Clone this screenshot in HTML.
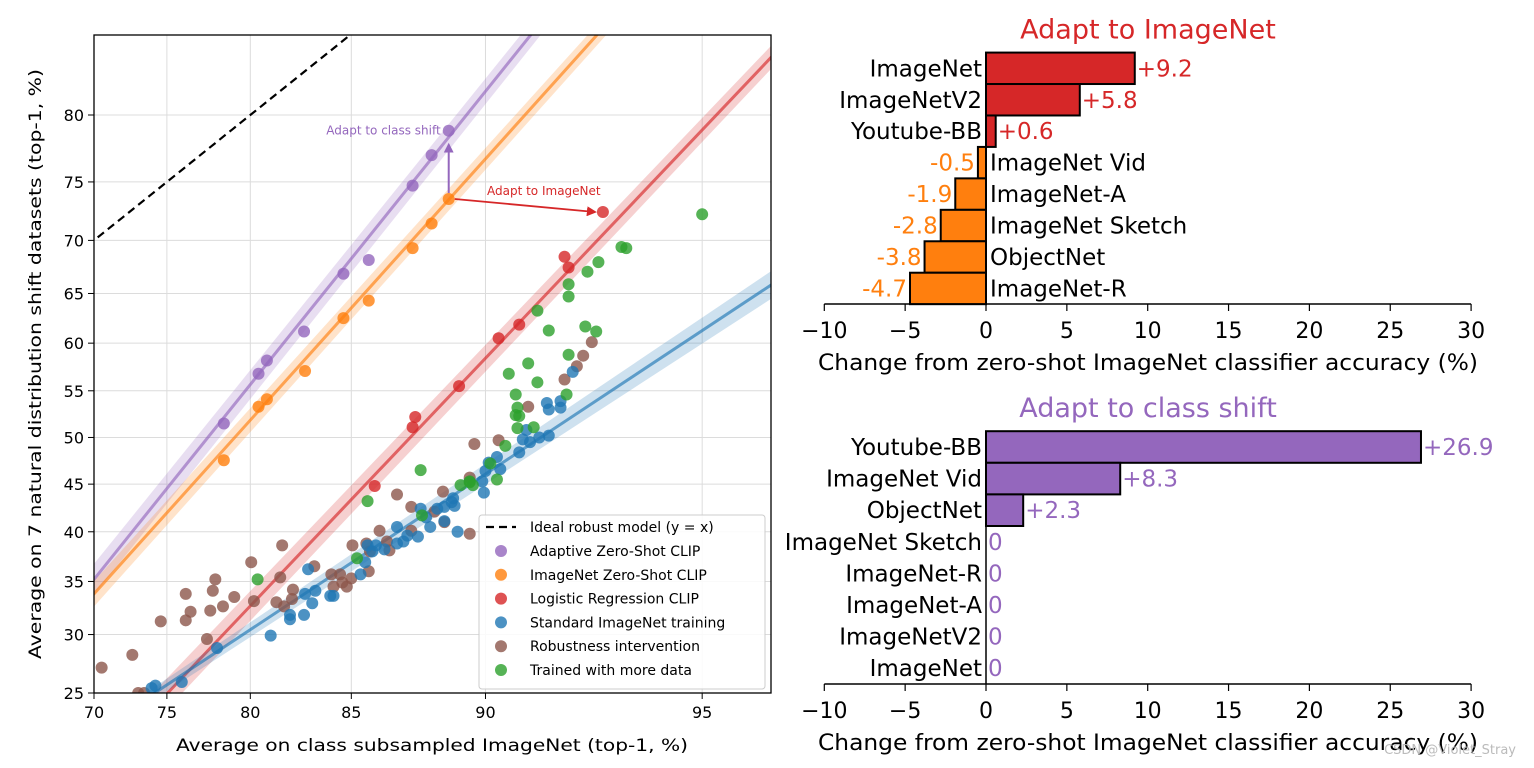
<!DOCTYPE html>
<html><head><meta charset="utf-8">
<style>
html,body{margin:0;padding:0;background:#fff;}
svg{display:block;font-family:"DejaVu Sans","Liberation Sans",sans-serif;}
</style></head>
<body>
<svg id="fig" width="1534" height="768" viewBox="0 0 1534 768" xmlns="http://www.w3.org/2000/svg">
<defs>
<clipPath id="plotclip"><rect x="94" y="35" width="677" height="658"/></clipPath>
<marker id="arrP" markerWidth="10" markerHeight="10" refX="8" refY="5" orient="auto" markerUnits="userSpaceOnUse"><path d="M0,0 L10,5 L0,10 z" fill="#9467bd"/></marker>
<marker id="arrR" markerWidth="10" markerHeight="10" refX="8" refY="5" orient="auto" markerUnits="userSpaceOnUse"><path d="M0,0 L10,5 L0,10 z" fill="#d62728"/></marker>
</defs>
<g id="left"></g>
<g id="top"></g>
<g id="bot"></g>
<text x="1516" y="754" font-size="13" fill="#bbb" text-anchor="end">CSDN @Violet_Stray</text>
</svg>
<script>
// ---------- Left scatter data ----------
const xTicks = [70, 75, 80, 85, 90, 95];
const yTicks = [25, 30, 35, 40, 45, 50, 55, 60, 65, 70, 75, 80];
const adaptivePts = [[78.5,51.5],[80.45,56.8],[80.9,58.2],[82.8,61.2],[84.65,66.9],[85.75,68.2],[87.5,74.7],[88.2,77.1],[88.8,78.9]];
const zeroShotPts = [[78.5,47.55],[80.45,53.3],[80.9,54.1],[82.85,57.1],[84.65,62.55],[85.75,64.3],[87.5,69.3],[88.2,71.5],[88.8,73.6]];
const logRegPts = [[86.0,44.8],[87.5,51.1],[87.6,52.2],[89.15,55.5],[90.4,60.5],[91.0,61.9],[92.2,68.5],[92.3,67.5],[93.1,72.5]];
const standardPts = [[92.4,57.0],[91.75,53.7],[91.8,53.0],[92.1,53.9],[92.1,53.2],[91.2,50.8],[91.1,49.8],[91.3,49.5],[91.55,50.0],[91.8,50.2],[91.0,48.4],[90.35,47.9],[90.45,46.6],[90.0,46.4],[90.1,47.3],[89.9,45.3],[89.95,44.1],[88.95,43.5],[88.65,42.6],[89.0,42.7],[88.9,43.1],[88.4,42.4],[88.65,41.1],[87.8,42.4],[88.15,40.5],[87.7,39.5],[86.9,40.5],[86.9,38.8],[87.15,39.0],[89.1,40.0],[86.05,38.6],[85.7,38.6],[85.6,36.9],[85.4,35.7],[84.2,33.6],[84.05,33.6],[83.35,34.1],[83.2,32.9],[82.85,33.8],[83.0,36.2],[82.8,31.8],[82.1,31.8],[82.1,31.4],[81.1,29.9],[78.1,28.8],[75.95,25.9],[74.25,25.6],[74.0,25.4],[86.4,38.2],[87.3,39.6],[85.9,38.0],[88.0,41.5]];
const robustPts = [[89.65,49.3],[89.5,45.7],[88.6,44.2],[86.9,43.9],[87.45,42.6],[88.3,42.1],[88.65,41.0],[89.5,39.8],[87.45,40.1],[86.2,40.1],[85.05,38.6],[85.65,38.8],[86.5,39.0],[86.6,38.1],[85.8,38.0],[85.75,36.0],[84.1,35.7],[84.5,35.7],[84.2,34.5],[84.8,34.5],[83.3,36.5],[81.7,38.6],[81.6,35.4],[80.05,36.9],[82.25,34.2],[82.2,33.3],[81.4,33.0],[81.8,32.6],[80.2,33.1],[79.1,33.5],[78.0,35.2],[77.85,34.1],[78.45,32.6],[77.7,32.2],[76.2,33.8],[76.5,32.1],[76.2,31.3],[74.6,31.2],[77.5,29.6],[72.7,28.2],[70.55,27.1],[73.1,25.0],[73.5,25.0],[92.85,60.1],[92.65,58.7],[92.5,57.6],[92.2,56.2],[91.25,53.3],[90.4,49.7],[84.6,34.9],[85.0,35.3]];
const moreDataPts = [[95.0,72.3],[93.5,69.4],[93.6,69.3],[93.0,68.0],[92.75,67.1],[92.3,65.9],[92.3,64.7],[91.5,63.3],[91.8,61.3],[92.7,61.7],[92.95,61.2],[92.3,58.8],[91.25,57.9],[90.7,56.8],[91.5,55.9],[90.9,54.6],[92.25,54.6],[90.95,53.2],[90.9,52.4],[91.0,52.3],[90.95,51.0],[91.4,51.1],[90.6,49.1],[90.15,47.2],[90.35,45.5],[89.5,45.3],[89.2,44.9],[89.6,44.9],[87.8,46.5],[85.7,43.2],[87.85,41.7],[85.25,37.3],[80.4,35.2],[89.5,45.2]];
// fit lines: [x1,y1,x2,y2] in data units
const adaptiveFit = [70, 35.2, 91.3, 84.9];
const zeroShotFit = [70, 33.8, 92.95, 84.9];
const logRegFit = [75.05, 25, 96.0, 83.6];
const standardFit = [74.2, 25, 96.0, 65.75];

// ---------- Right bar data ----------
const topCats = ["ImageNet","ImageNetV2","Youtube-BB","ImageNet Vid","ImageNet-A","ImageNet Sketch","ObjectNet","ImageNet-R"];
const topVals = [9.2, 5.8, 0.6, -0.5, -1.9, -2.8, -3.8, -4.7];
const botCats = ["Youtube-BB","ImageNet Vid","ObjectNet","ImageNet Sketch","ImageNet-R","ImageNet-A","ImageNetV2","ImageNet"];
const botVals = [26.9, 8.3, 2.3, 0, 0, 0, 0, 0];
const barTicks = [-10, -5, 0, 5, 10, 15, 20, 25, 30];

const NS = "http://www.w3.org/2000/svg";
function mk(parent, tag, attrs, text){
  const e = document.createElementNS(NS, tag);
  for (const k in attrs) e.setAttribute(k, attrs[k]);
  if (text !== undefined) e.textContent = text;
  parent.appendChild(e);
  return e;
}
const lg = p => Math.log(p/(1-p));
const X = v => 94 + 290*(lg(v/100) - lg(0.7));
const Y = v => 693 - 232.6*(lg(v/100) + 1.0986);

// ---------- Left panel ----------
const L = document.getElementById('left');
xTicks.forEach(t => {
  const g = mk(L,'line',{x1:X(t),x2:X(t),y1:35,y2:693,stroke:'#dcdcdc','stroke-width':1});
  
  
  const tk = mk(L,'line',{x1:X(t),x2:X(t),y1:693,y2:699,stroke:'#000','stroke-width':1});
  
  
  const lb = mk(L,'text',{x:X(t),y:718,'font-size':16,'text-anchor':'middle'},String(t));
  
  
});
yTicks.forEach(t => {
  const g = mk(L,'line',{x1:94,x2:771,y1:Y(t),y2:Y(t),stroke:'#dcdcdc','stroke-width':1});
  
  
  const tk = mk(L,'line',{x1:88,x2:94,y1:Y(t),y2:Y(t),stroke:'#000','stroke-width':1});
  
  
  const lb = mk(L,'text',{x:84,y:Y(t)+6,'font-size':16,'text-anchor':'end'},String(t));
  
  
});
const clipG = mk(L,'g',{'clip-path':'url(#plotclip)'});



(function(){
  const pts=[];
  for(let v=60; v<=97; v+=0.5) pts.push(X(v).toFixed(1)+','+Y(v).toFixed(1));
  const pl = mk(clipG,'polyline',{points:pts.join(' '),fill:'none',stroke:'#000','stroke-width':2.2,'stroke-dasharray':'8,5'});
  
  
})();

function drawFit(fit, color, w0, w1, name){
  const x1=X(fit[0]), y1=Y(fit[1]), x2=X(fit[2]), y2=Y(fit[3]);
  const dx=x2-x1, dy=y2-y1;
  const ax=x1-dx*0.15, ay=y1-dy*0.15, bx=x2+dx*0.15, by=y2+dy*0.15;
  const band = mk(clipG,'polygon',{points:`${ax},${ay-w0} ${bx},${by-w1} ${bx},${by+w1} ${ax},${ay+w0}`,fill:color,'fill-opacity':0.22});
  
  
  const ln = mk(clipG,'line',{x1:ax,y1:ay,x2:bx,y2:by,stroke:color,'stroke-width':3,'stroke-opacity':0.65});
  
  
}
drawFit(adaptiveFit,'#9467bd',16,12,'adaptive-clip');
drawFit(zeroShotFit,'#ff7f0e',13,10,'zero-shot-clip');
drawFit(logRegFit,'#d62728',16,11,'logistic-regression');
drawFit(standardFit,'#1f77b4',5,15,'standard-training');

function drawPts(arr,color,name){
  arr.forEach(p=>{
    const c = mk(clipG,'circle',{cx:X(p[0]),cy:Y(p[1]),r:6,fill:color,'fill-opacity':0.8});
    
    
  });
}
drawPts(robustPts,'#8c564b','robustness-intervention');
drawPts(standardPts,'#1f77b4','standard-imagenet');
drawPts(moreDataPts,'#2ca02c','more-data');
drawPts(logRegPts,'#d62728','logistic-regression');
drawPts(zeroShotPts,'#ff7f0e','zero-shot-clip');
drawPts(adaptivePts,'#9467bd','adaptive-clip');

(function(){
  const s = zeroShotPts[zeroShotPts.length-1];
  const a = adaptivePts[adaptivePts.length-1];
  const r = logRegPts[logRegPts.length-1];
  const ap = mk(L,'line',{x1:X(s[0]),y1:Y(s[1])-6,x2:X(s[0]),y2:Y(a[1])+14,stroke:'#9467bd','stroke-width':2,'marker-end':'url(#arrP)'});
  
  
  const at = mk(L,'text',{x:X(s[0])-8,y:Y(a[1])+4,'font-size':12,fill:'#9467bd','text-anchor':'end'},'Adapt to class shift');
  
  
  const ar = mk(L,'line',{x1:X(s[0])+6,y1:Y(s[1]),x2:X(r[0])-8,y2:Y(r[1]),stroke:'#d62728','stroke-width':1.8,'marker-end':'url(#arrR)'});
  
  
  const rt = mk(L,'text',{x:487,y:195,'font-size':12,fill:'#d62728'},'Adapt to ImageNet');
  
  
})();

const fr = mk(L,'rect',{x:94,y:35,width:677,height:658,fill:'none',stroke:'#000','stroke-width':1.3});



const xt = mk(L,'text',{x:432,y:751,'font-size':17,'text-anchor':'middle',textLength:512,lengthAdjust:'spacingAndGlyphs'},'Average on class subsampled ImageNet (top-1, %)');


const yt = mk(L,'text',{x:0,y:0,'font-size':17,'text-anchor':'middle',transform:'translate(41,364) rotate(-90)',textLength:590,lengthAdjust:'spacingAndGlyphs'},'Average on 7 natural distribution shift datasets (top-1, %)');



(function(){
  const lgG = mk(L,'g',{});
  
  
  const box = mk(lgG,'rect',{x:479,y:515,width:286,height:174,rx:3,fill:'#fff','fill-opacity':0.85,stroke:'#ccc'});
  
  
  const dash = mk(lgG,'line',{x1:486,x2:516,y1:527,y2:527,stroke:'#000','stroke-width':2.2,'stroke-dasharray':'8,5'});
  
  
  const t0 = mk(lgG,'text',{x:530,y:532,'font-size':14},'Ideal robust model (y = x)');
  
  
  const items = [['Adaptive Zero-Shot CLIP','#9467bd'],['ImageNet Zero-Shot CLIP','#ff7f0e'],['Logistic Regression CLIP','#d62728'],['Standard ImageNet training','#1f77b4'],['Robustness intervention','#8c564b'],['Trained with more data','#2ca02c']];
  items.forEach((it,i)=>{
    const y = 551 + i*23.8;
    const c = mk(lgG,'circle',{cx:501,cy:y,r:6,fill:it[1],'fill-opacity':0.8});
    
    
    const t = mk(lgG,'text',{x:530,y:y+5,'font-size':14},it[0]);
    
    
  });
})();

// ---------- Bar panels ----------
const R = v => 986 + v*16.17;
function barPanel(gid, cats, vals, y0, step, axisY, title, titleColor, posColor, negColor){
  const G = document.getElementById(gid);
  const tt = mk(G,'text',{x:1148,y:y0-step/2-14,'font-size':27,fill:titleColor,'text-anchor':'middle'},title);
  
  
  cats.forEach((c,i)=>{
    const v = vals[i];
    const cy = y0 + i*step;
    const col = v>=0 ? posColor : negColor;
    const x0 = Math.min(R(0),R(v)), w = Math.abs(R(v)-R(0));
    if (w>0){
      const b = mk(G,'rect',{x:x0,y:cy-step/2,width:w,height:step,fill:col,stroke:'#000','stroke-width':2});
      
      
    }
    const lab = v>=0 ? mk(G,'text',{x:R(0)-4,y:cy+8,'font-size':23,'text-anchor':'end'},c)
                     : mk(G,'text',{x:R(0)+4,y:cy+8,'font-size':23,'text-anchor':'start'},c);
    
    
    const txt = v>0 ? '+'+v : String(v);
    const vl = v>=0 ? mk(G,'text',{x:R(v)+2,y:cy+8,'font-size':23,fill:col,'text-anchor':'start'},txt)
                    : mk(G,'text',{x:R(v)-3,y:cy+8,'font-size':23,fill:col,'text-anchor':'end'},txt);
    
    
  });
  const sp = mk(G,'line',{x1:R(0),x2:R(0),y1:y0-step/2,y2:axisY,stroke:'#000','stroke-width':1.5});
  
  
  const ax = mk(G,'line',{x1:R(barTicks[0]),x2:R(barTicks[barTicks.length-1]),y1:axisY,y2:axisY,stroke:'#000','stroke-width':1.5});
  
  
  barTicks.forEach(t=>{
    const tk = mk(G,'line',{x1:R(t),x2:R(t),y1:axisY,y2:axisY+7,stroke:'#000','stroke-width':1.2});
    
    
    const tl = mk(G,'text',{x:R(t),y:axisY+34,'font-size':22,'text-anchor':'middle'},t<0?'\u2212'+Math.abs(t):String(t));
    
    
  });
  const xl = mk(G,'text',{x:1148,y:axisY+66,'font-size':22,'text-anchor':'middle',textLength:660,lengthAdjust:'spacingAndGlyphs'},'Change from zero-shot ImageNet classifier accuracy (%)');
  
  
}
barPanel('top', topCats, topVals, 68.3, 31.45, 304, 'Adapt to ImageNet', '#d62728', '#d62728', '#ff7f0e');
barPanel('bot', botCats, botVals, 447, 31.6, 684, 'Adapt to class shift', '#9467bd', '#9467bd', '#9467bd');
</script>
</body></html>
